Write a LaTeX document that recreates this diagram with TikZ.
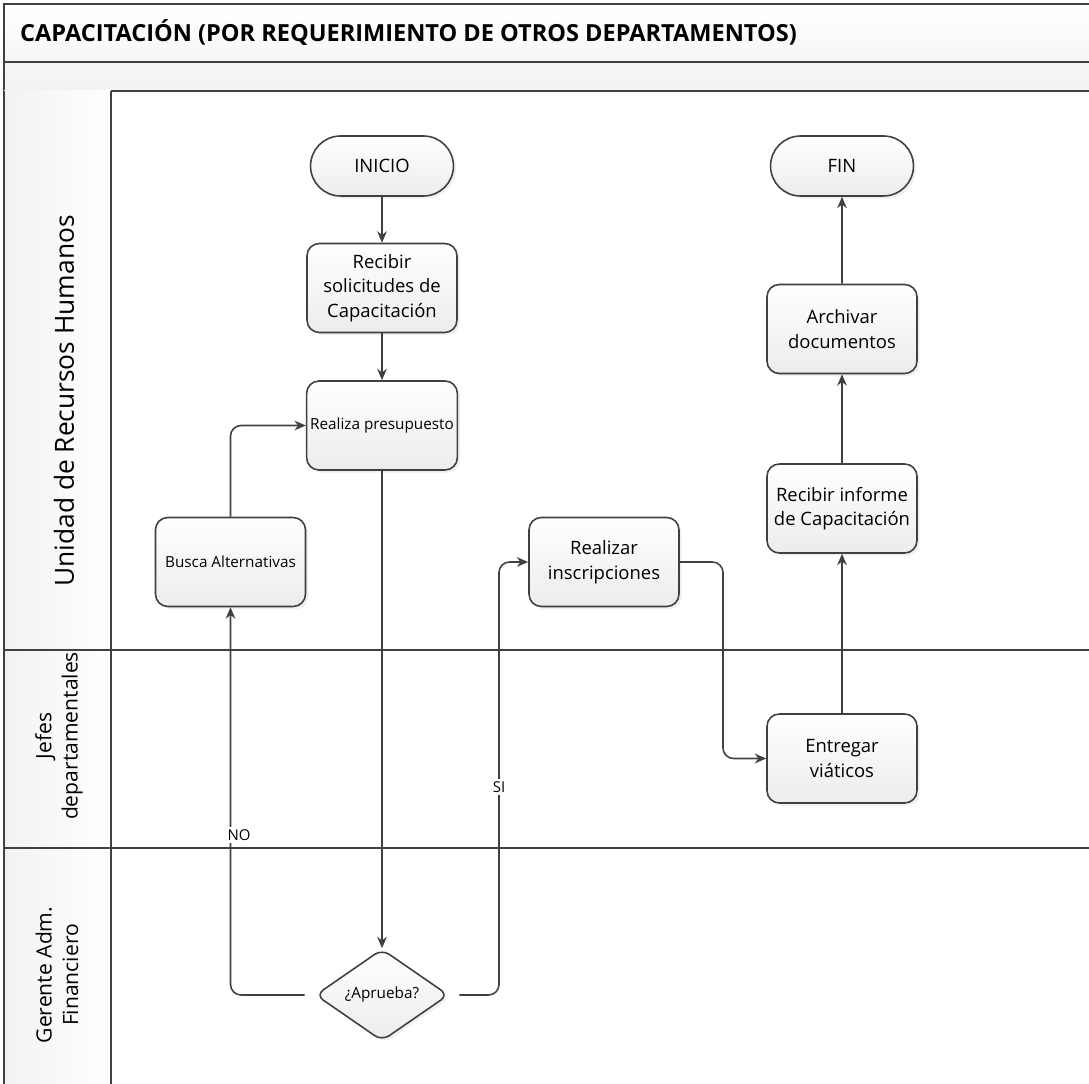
\documentclass[tikz,border=0pt]{standalone}
\usepackage{fontspec}
\setmainfont{Open Sans}
\usetikzlibrary{shapes.geometric,shapes.misc,arrows.meta,shadows,calc}

\definecolor{ink}{HTML}{404040}
\definecolor{boxlo}{HTML}{ECECEC}
\definecolor{bandlo}{HTML}{F2F2F2}

\begin{document}
\begin{tikzpicture}[x=0.02cm,y=-0.02cm,
  frame/.style={draw=ink,line width=1.2pt},
  proc/.style={draw=ink,line width=0.9pt,rounded corners=7pt,
    minimum width=3cm,minimum height=1.78cm,inner sep=2pt,align=center,
    font=\fontsize{10.5}{14}\selectfont,
    top color=white,bottom color=boxlo,
    drop shadow={shadow xshift=1.5pt,shadow yshift=-1.5pt,opacity=0.12}},
  smalltext/.style={font=\fontsize{8.7}{10}\selectfont},
  terminal/.style={proc,rounded rectangle,rounded corners=0pt,
    minimum height=1.2cm},
  decision/.style={draw=ink,line width=0.9pt,diamond,rounded corners=5pt,
    minimum width=2.66cm,minimum height=1.84cm,inner sep=0pt,
    font=\fontsize{8.7}{10}\selectfont,
    top color=white,bottom color=boxlo,
    drop shadow={shadow xshift=1.5pt,shadow yshift=-1.5pt,opacity=0.12}},
  flow/.style={draw=ink,line width=0.9pt,rounded corners=6pt,
    -{Stealth[length=6.5pt,width=5.5pt]}},
  lanelabel/.style={rotate=90,align=center,font=\fontsize{12}{15}\selectfont},
  cond/.style={fill=white,inner sep=1.5pt,font=\fontsize{8.5}{10}\selectfont}
]
\useasboundingbox (0,0) rectangle (1089,1084);

% title band and empty sub-band
\shade[top color=white,bottom color=bandlo] (4,4) rectangle (1089,91);
\draw[frame] (1089,4) -- (4,4) -- (4,1084);
\draw[frame] (4,62) -- (1089,62);
\draw[frame] (4,91) -- (1089,91);
\node[anchor=west,font=\bfseries\fontsize{13.4}{16}\selectfont] (title) at (14,33)
  {CAPACITACIÓN (POR REQUERIMIENTO DE OTROS DEPARTAMENTOS)};

% swimlanes
\shade[left color=bandlo,right color=white] (4,91) rectangle (111,1084);
\draw[frame] (4,91) -- (4,1084);
\draw[draw=ink,line width=0.8pt] (111,91) -- (111,1084);
\draw[frame] (4,650) -- (1089,650);
\draw[frame] (4,848) -- (1089,848);

\node[lanelabel,font=\fontsize{15}{18}\selectfont] (laneA) at (64,401) {Unidad de Recursos Humanos};
\node[lanelabel] (laneB) at (59,736) {Jefes\\departamentales};
\node[lanelabel] (laneC) at (57,975) {Gerente Adm.\\Financiero};

% process nodes
\node[terminal] (inicio) at (382,166) {INICIO};
\node[proc] (recibir) at (382,288) {Recibir\\solicitudes de\\Capacitación};
\node[proc,smalltext] (presup) at (382,425.5) {Realiza presupuesto};
\node[proc,smalltext] (busca) at (230.5,562) {Busca Alternativas};
\node[decision] (aprueba) at (382,995) {¿Aprueba?};
\node[proc] (inscr) at (604,562) {Realizar\\inscripciones};
\node[proc] (viaticos) at (842,758.5) {Entregar\\viáticos};
\node[proc] (informe) at (842,508.5) {Recibir informe\\de Capacitación};
\node[proc] (archivar) at (842,329) {Archivar\\documentos};
\node[terminal] (fin) at (842,166) {FIN};

% bend points
\coordinate (noOut) at ($(aprueba.west)+(-10,0)$);
\coordinate (siOut) at ($(aprueba.east)+(10,0)$);

% connectors
\draw[flow] (inicio) -- (recibir);
\draw[flow] (recibir) -- (presup);
\draw[flow] (presup) -- (aprueba);
\draw[flow] (noOut) -| (busca.south);
\draw[flow] (busca.north) |- (presup.west);
\draw[flow] (siOut) -| (499,562) -- (inscr.west);
\draw[flow] (inscr.east) -| (723,758.5) -- (viaticos.west);
\draw[flow] (viaticos) -- (informe);
\draw[flow] (informe) -- (archivar);
\draw[flow] (archivar) -- (fin);

% branch labels
\node[cond] (no) at (239,835) {NO};
\node[cond] (si) at (499,787) {SI};
\end{tikzpicture}
\end{document}
